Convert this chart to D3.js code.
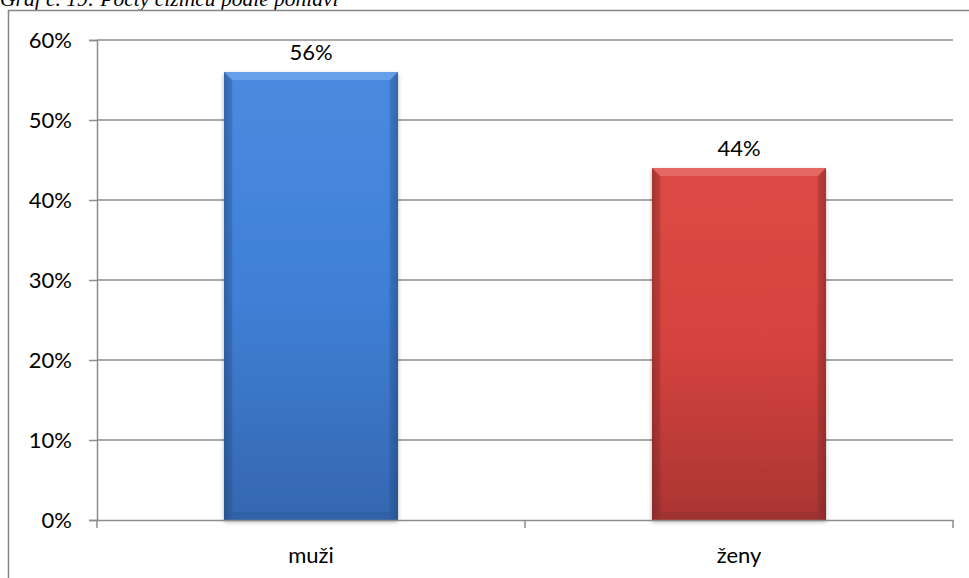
<!DOCTYPE html>
<html><head><meta charset="utf-8">
<script src="https://cdn.jsdelivr.net/npm/d3@7"></script>
<style>body{margin:0;background:#fff;overflow:hidden}svg{display:block}</style>
</head><body>
<script>
const categories = ["muži", "ženy"];
const values = [0.56, 0.44];
const labels = ["56%", "44%"];
const yTicks = [0, 0.1, 0.2, 0.3, 0.4, 0.5, 0.6];
const title = "Graf č. 19: Počty cizinců podle pohlaví";

(function(){
const W = 969, H = 578;
const svg = d3.select("body").append("svg").attr("width", W).attr("height", H);
const defs = svg.append("defs");

const palettes = [
  {top:"#4a8be0", mid:"#3f80d6", bot:"#3567b0", light:"#6fa6ec", dark:"#2c5a9c", id:"gb"},
  {top:"#dd4a45", mid:"#d6433f", bot:"#aa3533", light:"#e9706c", dark:"#93302e", id:"gr"}
];
palettes.forEach(p => {
  const g = defs.append("linearGradient").attr("id", p.id).attr("x1",0).attr("y1",0).attr("x2",0).attr("y2",1);
  g.append("stop").attr("offset","0%").attr("stop-color",p.top);
  g.append("stop").attr("offset","50%").attr("stop-color",p.mid);
  g.append("stop").attr("offset","100%").attr("stop-color",p.bot);
  const s = defs.append("linearGradient").attr("id", p.id+"s").attr("x1",0).attr("y1",0).attr("x2",1).attr("y2",0);
  s.append("stop").attr("offset","0%").attr("stop-color","#000").attr("stop-opacity",0.22);
  s.append("stop").attr("offset","6%").attr("stop-color","#000").attr("stop-opacity",0.0);
  s.append("stop").attr("offset","94%").attr("stop-color","#000").attr("stop-opacity",0.0);
  s.append("stop").attr("offset","100%").attr("stop-color","#000").attr("stop-opacity",0.22);
});
const sh = defs.append("filter").attr("id","shadow").attr("x","-10%").attr("y","-10%").attr("width","120%").attr("height","120%");
sh.append("feDropShadow").attr("dx",0).attr("dy",2).attr("stdDeviation",2).attr("flood-color","#000").attr("flood-opacity",0.3);

// title (cut off at top, as in the reference)
svg.append("text").attr("x", 0).attr("y", 6)
  .attr("font-family", "Liberation Serif, Times New Roman, serif")
  .attr("font-style","italic").attr("font-size", 21.5).attr("fill","#000").text(title);

// outer frame
svg.append("rect").attr("x", 8.5).attr("y", 10.5).attr("width", W+20).attr("height", H+20)
  .attr("fill","none").attr("stroke","#868686").attr("stroke-width",1.5);

const pl = 97, pr = 953, pt = 40, pb = 520;
const x = d3.scaleBand().domain(categories).range([pl, pr]).paddingInner(0.5935).paddingOuter(0.2967);
const y = d3.scaleLinear().domain([0, 0.6]).range([pb, pt]);

const font = "Lato, 'Open Sans', sans-serif";
const fs = 22;

// gridlines
svg.append("g").selectAll("line").data(yTicks.filter(d => d > 0)).join("line")
  .attr("x1", pl).attr("x2", pr).attr("y1", d => y(d)).attr("y2", d => y(d))
  .attr("stroke","#8c8c8c").attr("stroke-width",1.5);

// y axis
const yAxis = d3.axisLeft(y).tickValues(yTicks).tickFormat(d3.format(".0%")).tickSize(8).tickPadding(17);
const gy = svg.append("g").attr("transform", `translate(${pl},0)`).call(yAxis);
gy.select(".domain").attr("stroke","#8c8c8c").attr("stroke-width",1.5);
gy.selectAll(".tick line").attr("stroke","#8c8c8c").attr("stroke-width",1.5);
gy.selectAll("text").attr("font-family", font).attr("font-size", fs).attr("fill","#000");

// bars
const bars = svg.append("g");
categories.forEach((c, i) => {
  const p = palettes[i];
  const bx = x(c), bw = x.bandwidth(), by = y(values[i]), bh = y(0) - y(values[i]);
  const g = bars.append("g");
  g.append("rect").attr("x", bx).attr("y", by).attr("width", bw).attr("height", bh)
    .attr("fill", `url(#${p.id})`).attr("filter","url(#shadow)");
  g.append("rect").attr("x", bx).attr("y", by).attr("width", bw).attr("height", bh)
    .attr("fill", `url(#${p.id}s)`);
  const b = 8;
  g.append("polygon").attr("points", [[bx,by],[bx+bw,by],[bx+bw-b,by+b],[bx+b,by+b]].map(d=>d.join(",")).join(" "))
    .attr("fill", p.light).attr("opacity",0.8);
  g.append("polygon").attr("points", [[bx,by],[bx+b,by+b],[bx+b,by+bh-b],[bx,by+bh]].map(d=>d.join(",")).join(" "))
    .attr("fill", p.dark).attr("opacity",0.3);
  g.append("polygon").attr("points", [[bx+bw,by],[bx+bw-b,by+b],[bx+bw-b,by+bh-b],[bx+bw,by+bh]].map(d=>d.join(",")).join(" "))
    .attr("fill", p.dark).attr("opacity",0.3);
  g.append("polygon").attr("points", [[bx,by+bh],[bx+b,by+bh-b],[bx+bw-b,by+bh-b],[bx+bw,by+bh]].map(d=>d.join(",")).join(" "))
    .attr("fill", p.dark).attr("opacity",0.45);
  svg.append("text").attr("x", bx + bw/2).attr("y", by - 12).attr("text-anchor","middle")
    .attr("font-family", font).attr("font-size", fs).attr("fill","#000").text(labels[i]);
});

// x axis
const xAxis = d3.axisBottom(x).tickSize(0).tickPadding(27);
const gx = svg.append("g").attr("transform", `translate(0,${pb})`).call(xAxis);
gx.select(".domain").attr("stroke","#8c8c8c").attr("stroke-width",1.5);
gx.selectAll("text").attr("font-family", font).attr("font-size", fs).attr("fill","#000");
const bounds = [pl, (pl+pr)/2, pr];
svg.append("g").selectAll("line").data(bounds).join("line")
  .attr("x1", d=>d).attr("x2", d=>d).attr("y1", pb).attr("y2", pb+8)
  .attr("stroke","#8c8c8c").attr("stroke-width",1.5);
})();
</script>
</body></html>
